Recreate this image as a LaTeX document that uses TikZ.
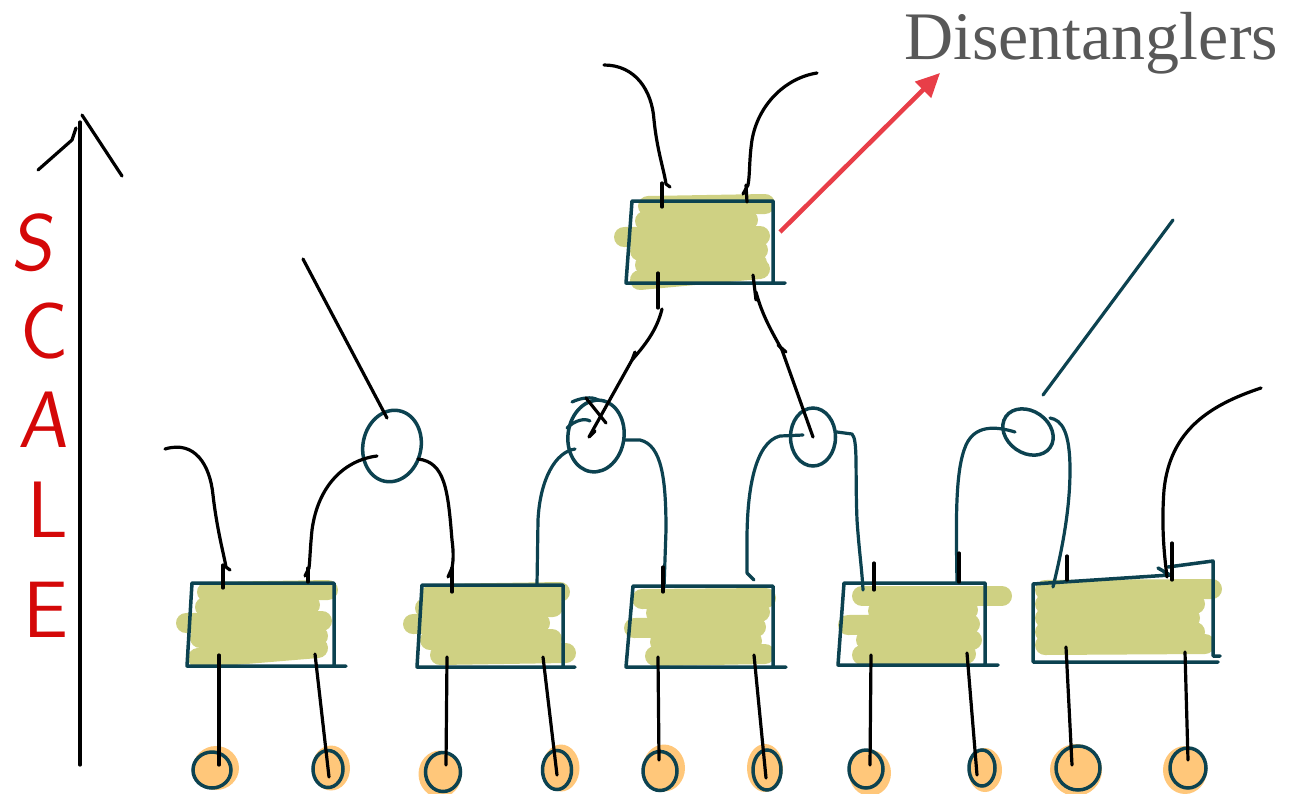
\documentclass[tikz,border=0pt]{standalone}
\usepackage{fontspec}
\newfontfamily\dfont{Liberation Serif}
\usetikzlibrary{shapes.geometric,arrows.meta}
\definecolor{tealc}{RGB}{12,66,80}
\definecolor{greenc}{RGB}{207,209,131}
\definecolor{orangec}{RGB}{255,199,122}
\definecolor{redarr}{RGB}{232,62,72}
\definecolor{redtxt}{RGB}{212,8,8}
\definecolor{grayc}{RGB}{88,88,88}
\tikzset{
 wire/.style={line width=3.2pt,line cap=round,line join=round,black},
 twire/.style={line width=3.2pt,line cap=round,line join=round,tealc},
 boxline/.style={line width=3.5pt,line cap=round,line join=round,tealc},
 scrib/.style={line width=20pt,line cap=round,greenc},
 ring/.style={ellipse,draw=tealc,line width=3.5pt,inner sep=0pt},
 blob/.style={ellipse,fill=orangec,inner sep=0pt},
 letter/.style={text=redtxt,font=\sffamily\fontsize{80}{80}\selectfont,inner sep=0pt}
}
\begin{document}
\begin{tikzpicture}[x=1pt,y=-1pt]
\useasboundingbox (0,0) rectangle (1301,793);

% ---------- SCALE axis ----------
\coordinate (axb) at (80,765);
\coordinate (axt) at (80,122);
\draw[wire] (axb) -- (axt);
\draw[wire] (38,170) -- (72,140) -- (76,128);
\draw[wire] (82,115) -- (122,176);
\node[letter,xslant=0.12] (lS) at (36,243) {S};
\node[letter] (lC) at (45,331) {C};
\node[letter,xslant=0.1] (lA) at (46,420) {A};
\node[letter] (lL) at (48,510) {L};
\node[letter] (lE) at (46,610) {E};

% ---------- green scribbles ----------
\foreach \a/\b/\c/\d in {
 648/206/765/204, 645/221/748/220, 624/237/760/236, 640/251/758/250, 645/265/757/263, 640/280/760/269,
 207/592/328/590, 205/607/310/605, 186/623/322/621, 200/638/318/636, 198/658/318/648,
 432/594/560/592, 425/608/553/607, 413/624/540/623, 430/640/552/639, 440/655/566/653,
 642/599/766/598, 656/613/760/612, 634/628/756/627, 660/642/752/641, 655/656/765/654,
 862/596/1002/596, 878/611/968/610, 848/625/970/624, 866/640/972/640, 862/655/966/654,
 1045/590/1212/589, 1045/604/1195/604, 1045/618/1190/618, 1045/632/1195/632, 1045/645/1205/644}
 {\draw[scrib] (\a,\b) -- (\c,\d);}

% ---------- boxes ----------
\draw[boxline] (785,283) -- (626,283) -- (632,201) -- (773,201) -- (773,283);
\draw[boxline] (346,666) -- (187,666) -- (192,583) -- (334,583) -- (334,666);
\draw[boxline] (575,667) -- (417,667) -- (422,585) -- (563,585) -- (563,667);
\draw[boxline] (786,667) -- (626,667) -- (633,586) -- (773,586) -- (773,667);
\draw[boxline] (998,665) -- (838,665) -- (844,583) -- (985,583) -- (985,665);
\draw[boxline] (1218,662) -- (1033,662) -- (1033,584) -- (1170,575) -- (1158,568);
\draw[boxline] (1168,567) -- (1213,561) -- (1213,656) -- (1220,656);

% ---------- top disentangler rings ----------
\node[ring,minimum width=58pt,minimum height=72pt,rotate=-12] (c1) at (392,446) {};
\node[ring,minimum width=56pt,minimum height=72pt,rotate=-8] (c2) at (596,436) {};
\node[ring,minimum width=45pt,minimum height=58pt] (c3) at (813,437) {};
\node[ring,minimum width=54pt,minimum height=42pt,rotate=-35] (c4) at (1028,432) {};
\draw[twire] (567,428) .. controls (575,420) and (585,418) .. (590,421);
\draw[twire] (572,402) .. controls (580,398) and (592,396) .. (598,400);

% ---------- top box wires ----------
\draw[wire] (604,65) .. controls (635,65) and (652,90) .. (654,120) .. controls (657,150) and (664,170) .. (666,184) -- (670,187);
\draw[wire] (662,183) -- (662,207);
\draw[wire] (817,73) .. controls (785,78) and (758,105) .. (752,140) .. controls (749,160) and (750,175) .. (748,185) -- (743,194);
\draw[wire] (746,185) -- (747,202);
% legs down to rings
\draw[wire] (658,273) -- (658,308);
\draw[wire] (662,309) .. controls (657,330) and (645,345) .. (632,360) -- (635,352);
\draw[wire] (632,360) -- (589,437) -- (595,431);
\draw[wire] (586,398) -- (606,423);
\draw[wire] (753,275) -- (756,300);
\draw[wire] (756,292) .. controls (762,315) and (772,332) .. (782,350) -- (813,437);
\draw[wire] (778,345) -- (786,352);

% ---------- free lines into rings ----------
\draw[wire] (303,259) -- (387,418);
\draw[twire] (1173,220) -- (1043,395);

% ---------- wires from rings to lower boxes ----------
\draw[wire] (165,449) .. controls (195,440) and (210,465) .. (213,495) .. controls (217,530) and (224,555) .. (226,567) -- (230,570);
\draw[wire] (223,565) -- (223,588);
\draw[wire] (377,456) .. controls (345,460) and (318,485) .. (312,530) .. controls (310,550) and (310,560) .. (309,568) -- (305,576);
\draw[wire] (308,568) -- (308,582);
\draw[wire] (418,459) .. controls (445,462) and (448,490) .. (452,540) .. controls (454,555) and (453,562) .. (452,568) -- (448,577);
\draw[wire] (452,568) -- (452,592);
\draw[twire] (575,449) .. controls (555,452) and (540,480) .. (538,520) -- (537,585);
\draw[twire] (625,440) -- (640,440) .. controls (662,445) and (666,480) .. (666,530) -- (664,588);
\draw[wire] (663,567) -- (663,592);
\draw[twire] (803,435) -- (780,436) .. controls (755,442) and (747,490) .. (747,540) -- (747,573) -- (754,580);
\draw[twire] (837,432) -- (852,434) .. controls (858,440) and (855,470) .. (857,520) .. controls (859,550) and (862,570) .. (863,590);
\draw[wire] (874,563) -- (874,590);
\draw[twire] (1015,432) .. controls (995,426) and (975,425) .. (966,445) .. controls (955,470) and (956,520) .. (957,583);
\draw[wire] (959,553) -- (959,582);
\draw[twire] (1050,418) .. controls (1062,420) and (1070,432) .. (1070,470) .. controls (1070,510) and (1062,550) .. (1053,587);
\draw[wire] (1067,556) -- (1067,580);
\draw[wire] (1261,388) .. controls (1210,405) and (1170,430) .. (1164,490) .. controls (1161,530) and (1165,560) .. (1167,577);
\draw[wire] (1172,543) -- (1172,580);

% ---------- bottom physical sites ----------
\foreach \n/\x/\y/\w/\h/\dx/\dy in {
 1/212/770/38/36/4/-2, 2/328/769/30/37/3/-1, 3/443/772/35/39/-3/2, 4/557/770/29/39/4/-2,
 5/660/771/34/39/4/-3, 6/767/770/28/40/-2/-2, 7/866/769/34/38/4/4, 8/982/768/26/36/3/2,
 9/1078/768/44/44/-2/2, 10/1188/768/36/40/-3/2}
{
 \node[blob,minimum width=\w pt+8pt,minimum height=\h pt+8pt] (b\n) at (\x+\dx,\y+\dy) {};
 \node[ring,minimum width=\w pt,minimum height=\h pt] (o\n) at (\x,\y) {};
}
\draw[wire] (219,655) -- (219,765);
\draw[wire] (315,654) -- (329,777);
\draw[wire] (447,657) -- (446,765);
\draw[wire] (543,657) -- (557,775);
\draw[wire] (658,657) -- (659,760);
\draw[wire] (754,655) -- (766,778);
\draw[wire] (871,655) -- (870,765);
\draw[wire] (967,653) -- (977,775);
\draw[wire] (1066,647) -- (1072,765);
\draw[wire] (1185,652) -- (1188,760);

% ---------- label ----------
\coordinate (arrs) at (780,232);
\node[anchor=base west,inner sep=0pt,text=grayc,font=\dfont\fontsize{68}{70}\selectfont] (dis) at (904,59) {Disentanglers};
\draw[redarr,line width=4.5pt,-{Triangle[length=24pt,width=22pt]}] (arrs) -- (940,73);
\end{tikzpicture}
\end{document}
